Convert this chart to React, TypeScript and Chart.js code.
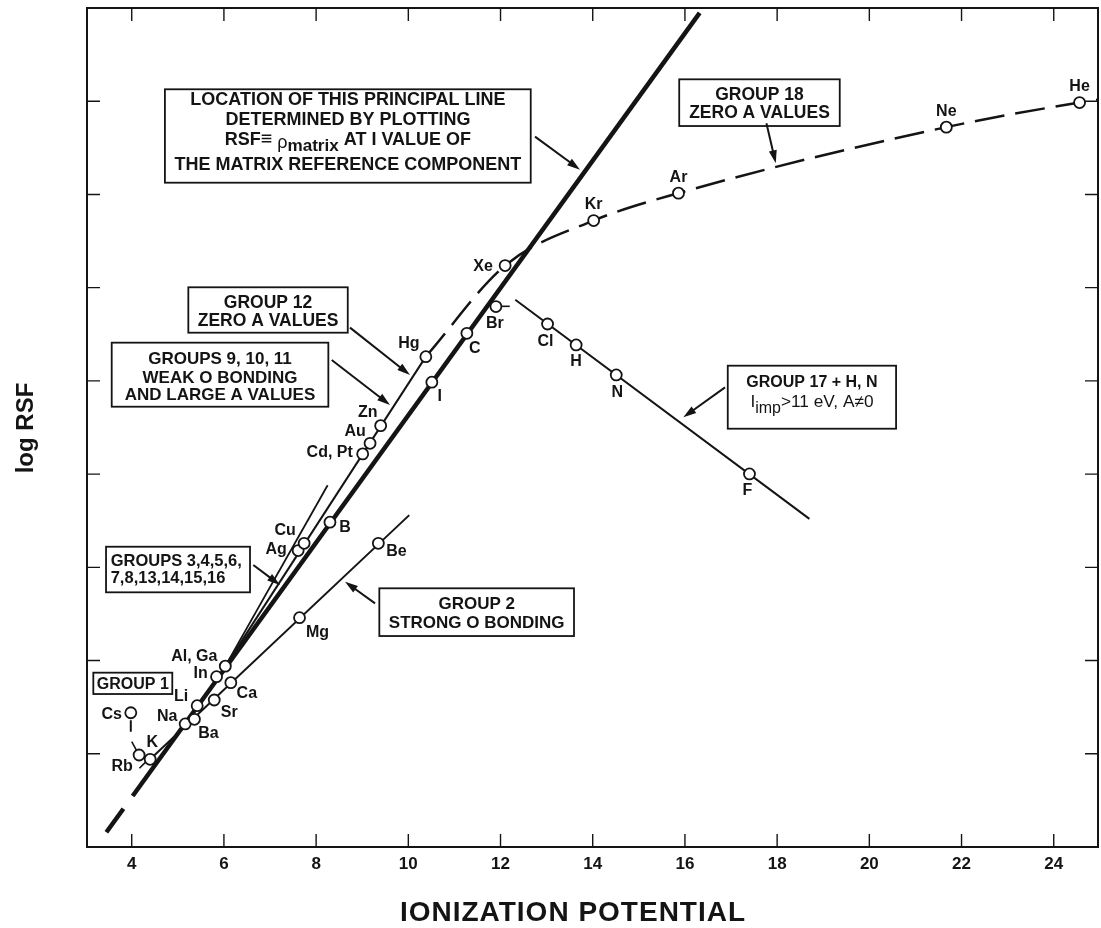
import { useEffect, useRef } from 'react';
import { Chart, registerables } from 'chart.js';

Chart.register(...registerables);

const FONT = '"Liberation Sans", Arial, Helvetica, sans-serif';
const INK = '#141414';
const WIDTH = 1101;
const HEIGHT = 928;

// Elements: first ionization potential (eV) against log RSF
const elementLabels = ['Cs', 'Rb', 'K', 'Na', 'Ba', 'Li', 'Sr', 'In', 'Al, Ga', 'Ca', 'Mg', 'Be', 'Ag', 'Cu', 'B', 'Cd, Pt', 'Au', 'Zn', 'Hg', 'I', 'C', 'Br', 'Xe', 'Kr', 'Ar', 'Ne', 'He', 'Cl', 'H', 'N', 'F'];
const ionizationPotential = [3.98, 4.16, 4.40, 5.16, 5.36, 5.42, 5.79, 5.84, 6.03, 6.15, 7.64, 9.35, 7.61, 7.74, 8.30, 9.01, 9.17, 9.40, 10.38, 10.51, 11.27, 11.90, 12.10, 14.02, 15.86, 21.67, 24.56, 13.02, 13.64, 14.51, 17.40];
const logRsf = [1.44, 0.987, 0.941, 1.32, 1.37, 1.516, 1.577, 1.827, 1.94, 1.763, 2.46, 3.258, 3.18, 3.258, 3.484, 4.217, 4.33, 4.52, 5.26, 4.986, 5.51, 5.797, 6.237, 6.72, 7.014, 7.722, 7.986, 5.61, 5.386, 5.064, 4.002];

// Label placement around each marker (pixels: dx, dy)
const labelOffsets: [number, number][] = [
  [-19, 2], [-17, 12], [2, -17], [-18, -7], [14, 14], [-16, -9], [15, 13], [-16, -3], [-31, -10], [16, 11],
  [18, 15], [18, 8], [-22, -1], [-19, -13], [15, 5], [-33, -1], [-15, -12], [-13, -13], [-17, -13], [8, 14],
  [8, 15], [-1, 17], [-22, 1], [0, -16], [0, -16], [0, -16], [0, -16], [-2, 18], [0, 17], [1, 18], [-2, 17],
];

// Fitted lines
const principalX = [4.02, 16.32];
const principalY = [0.547, 8.948];
const principalTailX = [3.45, 3.82];
const principalTailY = [0.158, 0.41];
const group2X = [4.40, 10.02];
const group2Y = [0.941, 3.56];
const group9to12X = [6.03, 10.38];
const group9to12Y = [1.94, 5.26];
const steepX = [6.03, 8.25];
const steepY = [1.94, 3.88];
const group17X = [12.32, 18.70];
const group17Y = [5.87, 3.52];
const group18X = [10.38, 12.10, 14.02, 15.86, 21.67, 24.56, 24.96];
const group18Y = [5.26, 6.237, 6.72, 7.014, 7.722, 7.986, 8.015];

// Short connectors beside individual markers
const csStemX = [3.98, 3.98];
const csStemY = [1.36, 1.235];
const rbUpperX = [4.0, 4.1];
const rbUpperY = [1.13, 1.04];
const rbLowerX = [4.167, 4.291];
const rbLowerY = [0.845, 0.905];
const brTickX = [11.99, 12.2];
const brTickY = [5.80, 5.80];

// Axis ticks
const xTickValues = [4, 6, 8, 10, 12, 14, 16, 18, 20, 22, 24];
const yTickValues = [1, 2, 3, 4, 5, 6, 7, 8];

type Run = { t: string; scale?: number; dy?: number; weight?: string; italic?: boolean };
type Row = { y: number; runs: Run[] };
type Callout = {
  box: [number, number, number, number];
  textX: number;
  align: 'center' | 'left';
  size: number;
  rows: Row[];
  arrow?: [number, number, number, number];
};

const callouts: Callout[] = [
  {
    box: [4.72, 8.128, 12.655, 7.126], textX: 8.689, align: 'center', size: 18,
    rows: [
      { y: 8.031, runs: [{ t: 'LOCATION OF THIS PRINCIPAL LINE' }] },
      { y: 7.817, runs: [{ t: 'DETERMINED BY PLOTTING' }] },
      { y: 7.602, runs: [{ t: 'RSF' }, { t: '≡', scale: 1.1 }, { t: ' ρ', weight: 'normal', dy: 3 }, { t: 'matrix', scale: 0.95, dy: 6 }, { t: ' AT I VALUE OF' }] },
      { y: 7.334, runs: [{ t: 'THE MATRIX REFERENCE COMPONENT' }] },
    ],
    arrow: [12.748, 7.62, 13.724, 7.266],
  },
  {
    box: [15.876, 8.235, 19.358, 7.734], textX: 17.617, align: 'center', size: 17.5,
    rows: [
      { y: 8.085, runs: [{ t: 'GROUP 18' }] },
      { y: 7.888, runs: [{ t: 'ZERO A VALUES' }] },
    ],
    arrow: [17.768, 7.763, 17.97, 7.334],
  },
  {
    box: [5.228, 6.004, 8.686, 5.517], textX: 6.957, align: 'center', size: 17.5,
    rows: [
      { y: 5.850, runs: [{ t: 'GROUP 12' }] },
      { y: 5.661, runs: [{ t: 'ZERO A VALUES' }] },
    ],
    arrow: [8.735, 5.571, 10.037, 5.063],
  },
  {
    box: [3.566, 5.410, 8.265, 4.723], textX: 5.915, align: 'center', size: 17,
    rows: [
      { y: 5.242, runs: [{ t: 'GROUPS 9, 10, 11' }] },
      { y: 5.045, runs: [{ t: 'WEAK O BONDING' }] },
      { y: 4.859, runs: [{ t: 'AND LARGE A VALUES' }] },
    ],
    arrow: [8.338, 5.224, 9.603, 4.742],
  },
  {
    box: [3.443, 3.221, 6.566, 2.732], textX: 3.544, align: 'left', size: 16.5,
    rows: [
      { y: 3.076, runs: [{ t: 'GROUPS 3,4,5,6,' }] },
      { y: 2.895, runs: [{ t: '7,8,13,14,15,16' }] },
    ],
    arrow: [6.638, 3.025, 7.217, 2.81],
  },
  {
    box: [9.371, 2.775, 13.594, 2.263], textX: 11.483, align: 'center', size: 17,
    rows: [
      { y: 2.614, runs: [{ t: 'GROUP 2' }] },
      { y: 2.417, runs: [{ t: 'STRONG O BONDING' }] },
    ],
    arrow: [9.278, 2.614, 8.627, 2.846],
  },
  {
    box: [16.929, 5.163, 20.58, 4.487], textX: 18.755, align: 'center', size: 16,
    rows: [
      { y: 5.0, runs: [{ t: 'GROUP 17 + H, N' }] },
      { y: 4.785, runs: [{ t: 'I', weight: 'normal', scale: 1.08 }, { t: 'imp', weight: 'normal', scale: 1.0, dy: 6 }, { t: '>11 eV, A≠0', weight: 'normal', scale: 1.08 }] },
    ],
    arrow: [16.87, 4.931, 15.965, 4.609],
  },
  {
    box: [3.167, 1.870, 4.88, 1.641], textX: 4.024, align: 'center', size: 16,
    rows: [{ y: 1.756, runs: [{ t: 'GROUP 1' }] }],
  },
];

const pts = (xs: number[], ys: number[]) => xs.map((x, i) => ({ x, y: ys[i] }));

function runFont(size: number, r: Run) {
  return `${r.italic ? 'italic ' : ''}${r.weight ?? 'bold'} ${size * (r.scale ?? 1)}px ${FONT}`;
}

function drawRuns(ctx: CanvasRenderingContext2D, runs: Run[], x: number, y: number, size: number, align: 'center' | 'left') {
  let width = 0;
  for (const r of runs) {
    ctx.font = runFont(size, r);
    width += ctx.measureText(r.t).width;
  }
  let cx = align === 'center' ? x - width / 2 : x;
  const base = y + size * 0.36;
  ctx.textAlign = 'left';
  ctx.textBaseline = 'alphabetic';
  for (const r of runs) {
    ctx.font = runFont(size, r);
    ctx.fillText(r.t, cx, base + (r.dy ?? 0));
    cx += ctx.measureText(r.t).width;
  }
}

function drawArrow(ctx: CanvasRenderingContext2D, x0: number, y0: number, x1: number, y1: number) {
  const ang = Math.atan2(y1 - y0, x1 - x0);
  const len = 13;
  const half = 4;
  ctx.beginPath();
  ctx.moveTo(x0, y0);
  ctx.lineTo(x1 - Math.cos(ang) * len * 0.6, y1 - Math.sin(ang) * len * 0.6);
  ctx.stroke();
  ctx.beginPath();
  ctx.moveTo(x1, y1);
  ctx.lineTo(x1 - Math.cos(ang) * len - Math.sin(ang) * half, y1 - Math.sin(ang) * len + Math.cos(ang) * half);
  ctx.lineTo(x1 - Math.cos(ang) * len + Math.sin(ang) * half, y1 - Math.sin(ang) * len - Math.cos(ang) * half);
  ctx.closePath();
  ctx.fill();
}

const decorPlugin = {
  id: 'decor',
  afterDatasetsDraw(chart: Chart) {
    const { ctx, chartArea } = chart;
    const xs = chart.scales.x;
    const ys = chart.scales.y;
    const { left, right, top, bottom } = chartArea;
    ctx.save();
    ctx.strokeStyle = INK;
    ctx.fillStyle = INK;

    // frame with inward ticks on all four sides
    ctx.lineWidth = 2;
    ctx.strokeRect(left, top, right - left, bottom - top);
    ctx.lineWidth = 1.4;
    ctx.beginPath();
    for (const v of xTickValues) {
      const px = xs.getPixelForValue(v);
      ctx.moveTo(px, bottom);
      ctx.lineTo(px, bottom - 13);
      ctx.moveTo(px, top);
      ctx.lineTo(px, top + 13);
    }
    for (const v of yTickValues) {
      const py = ys.getPixelForValue(v);
      ctx.moveTo(left, py);
      ctx.lineTo(left + 13, py);
      ctx.moveTo(right, py);
      ctx.lineTo(right - 13, py);
    }
    ctx.stroke();

    // element labels
    ctx.font = `bold 16px ${FONT}`;
    ctx.textAlign = 'center';
    ctx.textBaseline = 'middle';
    elementLabels.forEach((name, i) => {
      const px = xs.getPixelForValue(ionizationPotential[i]);
      const py = ys.getPixelForValue(logRsf[i]);
      const [dx, dy] = labelOffsets[i];
      ctx.fillText(name, px + dx, py + dy);
    });

    // callout boxes and arrows
    for (const c of callouts) {
      const x0 = xs.getPixelForValue(c.box[0]);
      const y0 = ys.getPixelForValue(c.box[1]);
      const x1 = xs.getPixelForValue(c.box[2]);
      const y1 = ys.getPixelForValue(c.box[3]);
      ctx.fillStyle = '#ffffff';
      ctx.fillRect(x0, y0, x1 - x0, y1 - y0);
      ctx.lineWidth = 1.8;
      ctx.strokeRect(x0, y0, x1 - x0, y1 - y0);
      ctx.fillStyle = INK;
      const tx = xs.getPixelForValue(c.textX);
      for (const row of c.rows) {
        drawRuns(ctx, row.runs, tx, ys.getPixelForValue(row.y), c.size, c.align);
      }
      if (c.arrow) {
        ctx.lineWidth = 2;
        drawArrow(ctx,
          xs.getPixelForValue(c.arrow[0]), ys.getPixelForValue(c.arrow[1]),
          xs.getPixelForValue(c.arrow[2]), ys.getPixelForValue(c.arrow[3]));
      }
    }

    // axis titles
    ctx.fillStyle = INK;
    ctx.textAlign = 'center';
    ctx.textBaseline = 'middle';
    ctx.font = `bold 28px ${FONT}`;
    (ctx as any).letterSpacing = '1px';
    ctx.fillText('IONIZATION POTENTIAL', 573, 913);
    (ctx as any).letterSpacing = '0px';
    ctx.translate(26, 428);
    ctx.rotate(-Math.PI / 2);
    ctx.font = `bold 24px ${FONT}`;
    ctx.fillText('log RSF', 0, 0);
    ctx.restore();
  },
};

export default function App() {
  const canvasRef = useRef<HTMLCanvasElement | null>(null);

  useEffect(() => {
    const canvas = canvasRef.current;
    if (!canvas) return;
    const line = (label: string, xs: number[], ys: number[], width: number, extra: object = {}) => ({
      label,
      data: pts(xs, ys),
      showLine: true,
      borderColor: INK,
      borderWidth: width,
      pointRadius: 0,
      pointHoverRadius: 0,
      fill: false,
      order: 1,
      ...extra,
    });
    const chart = new Chart(canvas, {
      type: 'scatter',
      data: {
        datasets: [
          {
            label: 'Elements',
            data: pts(ionizationPotential, logRsf),
            showLine: false,
            pointRadius: 5.5,
            pointHoverRadius: 5.5,
            pointBackgroundColor: '#ffffff',
            pointBorderColor: INK,
            pointBorderWidth: 1.8,
            order: 0,
          },
          line('Principal line', principalX, principalY, 4.5),
          line('Principal line (extrapolated)', principalTailX, principalTailY, 4.5),
          line('Group 2', group2X, group2Y, 2),
          line('Groups 9–12', group9to12X, group9to12Y, 2),
          line('Groups 9–11 (lower)', steepX, steepY, 1.8),
          line('Group 17 + H, N', group17X, group17Y, 2),
          line('Group 18', group18X, group18Y, 2.5, { borderDash: [30, 11], cubicInterpolationMode: 'monotone' }),
          line('Cs', csStemX, csStemY, 2),
          line('Rb upper', rbUpperX, rbUpperY, 1.6),
          line('Rb lower', rbLowerX, rbLowerY, 1.6),
          line('Br', brTickX, brTickY, 1.6),
        ],
      },
      options: {
        animation: false,
        responsive: false,
        maintainAspectRatio: false,
        devicePixelRatio: 1,
        layout: { autoPadding: false, padding: { left: 0, top: 8, right: 3, bottom: 0 } },
        plugins: {
          legend: { display: false },
          tooltip: { enabled: false },
        },
        events: [],
        scales: {
          x: {
            type: 'linear',
            min: 3.03,
            max: 24.96,
            afterBuildTicks: (s: any) => {
              s.ticks = xTickValues.map((value) => ({ value }));
            },
            afterFit: (s: any) => {
              s.height = 81;
              s.paddingLeft = 0;
              s.paddingRight = 0;
            },
            ticks: {
              color: INK,
              padding: 7,
              maxRotation: 0,
              autoSkip: false,
              font: { family: FONT, size: 17, weight: 'bold' },
            },
            grid: { display: false, drawTicks: false },
            border: { display: false },
          },
          y: {
            type: 'linear',
            min: 0,
            max: 9,
            afterBuildTicks: (s: any) => {
              s.ticks = yTickValues.map((value) => ({ value }));
            },
            afterFit: (s: any) => {
              s.width = 87;
              s.paddingTop = 0;
              s.paddingBottom = 0;
            },
            ticks: { display: false },
            grid: { display: false, drawTicks: false },
            border: { display: false },
          },
        },
      },
      plugins: [decorPlugin],
    } as any);
    return () => chart.destroy();
  }, []);

  return (
    <div style={{ position: 'absolute', left: 0, top: 0, width: WIDTH, height: HEIGHT, overflow: 'hidden', background: '#ffffff' }}>
      <canvas ref={canvasRef} width={WIDTH} height={HEIGHT} style={{ display: 'block', width: WIDTH, height: HEIGHT }} />
    </div>
  );
}
